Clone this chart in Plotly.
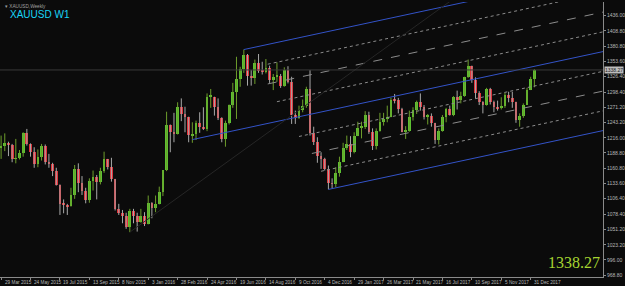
import plotly.graph_objects as go

# ---------------- data (weekly XAUUSD, bar 0 = week of 29 Mar 2015) ----------------
opens = [1199,1201,1207,1203,1178,1179,1189,1225,1205,1190,1168,1181,1201,1173,1168,1157,1131,1097,1095,1093,
         1113,1160,1134,1121,1104,1138,1146,1137,1156,1177,1163,1141,1088,1081,1076,1056,1085,1075,1065,1076,
         1061,1098,1090,1097,1118,1158,1239,1227,1222,1271,1259,1254,1221,1222,1243,1235,1232,1290,1290,1272,
         1252,1213,1243,1275,1298,1322,1340,1366,1327,1323,1351,1336,1335,1341,1321,1326,1328,1310,1338,1316,
         1257,1251,1266,1274,1304,1225,1208,1183,1177,1159,1134,1133,1152,1173,1197,1205,1190,1220,1234,1236,
         1257,1226,1202,1229,1244,1249,1254,1285,1284,1268,1227,1228,1254,1267,1280,1271,1254,1256,1242,1212,
         1228,1254,1268,1258,1289,1284,1291,1325,1346,1320,1297,1280,1275,1304,1280,1272,1269,1274,1294,1287,
         1280,1248,1255,1276,1303,1322]
highs = [1220,1224,1209,1205,1214,1194,1226,1232,1206,1199,1195,1205,1204,1187,1171,1162,1132,1105,1097,1126,
         1167,1170,1147,1126,1143,1157,1149,1162,1191,1178,1180,1142,1097,1086,1081,1088,1088,1081,1088,1082,
         1112,1100,1112,1128,1158,1263,1240,1261,1280,1287,1272,1254,1244,1247,1262,1271,1296,1304,1290,1287,
         1253,1247,1276,1315,1362,1344,1375,1367,1338,1357,1367,1353,1358,1346,1331,1352,1331,1343,1345,1326,
         1265,1274,1285,1308,1338,1236,1217,1190,1180,1166,1143,1163,1182,1207,1220,1219,1226,1245,1245,1264,
         1263,1233,1233,1261,1261,1274,1288,1295,1288,1270,1237,1265,1271,1283,1296,1275,1259,1260,1243,1233,
         1257,1270,1274,1291,1301,1299,1326,1357,1346,1325,1300,1282,1306,1306,1283,1283,1289,1297,1299,1299,
         1281,1260,1278,1306,1326,1340]
lows = [1178,1192,1183,1172,1170,1177,1182,1202,1182,1162,1163,1175,1168,1162,1147,1130,1077,1080,1077,1092,
        1106,1118,1113,1098,1099,1121,1105,1132,1153,1159,1137,1085,1077,1062,1052,1046,1062,1047,1063,1057,
        1060,1071,1082,1096,1111,1156,1190,1208,1222,1246,1226,1208,1207,1212,1225,1230,1228,1270,1256,1248,
        1208,1200,1240,1270,1250,1308,1333,1310,1310,1313,1333,1330,1332,1315,1302,1317,1306,1308,1314,1241,
        1241,1250,1262,1270,1220,1203,1171,1160,1157,1123,1125,1127,1146,1172,1194,1181,1188,1219,1215,1232,
        1223,1194,1195,1227,1238,1244,1253,1278,1260,1226,1214,1227,1247,1259,1265,1249,1240,1236,1205,1204,
        1227,1244,1256,1255,1267,1278,1290,1324,1315,1287,1275,1260,1274,1276,1262,1265,1267,1270,1280,1270,
        1243,1236,1252,1275,1302,1307]
closes = [1201,1207,1203,1178,1179,1189,1225,1205,1190,1168,1181,1201,1173,1168,1157,1131,1097,1095,1093,1113,
          1160,1134,1121,1104,1138,1146,1137,1156,1177,1163,1141,1088,1081,1076,1056,1085,1075,1065,1076,1061,
          1098,1090,1097,1118,1158,1239,1227,1222,1271,1259,1254,1221,1222,1243,1235,1232,1290,1290,1272,1252,
          1213,1243,1275,1298,1322,1340,1366,1327,1323,1351,1336,1335,1341,1321,1326,1328,1310,1338,1316,1257,
          1251,1266,1274,1304,1225,1208,1183,1177,1159,1134,1133,1152,1173,1197,1205,1190,1220,1234,1236,1257,
          1226,1202,1229,1244,1249,1254,1285,1284,1268,1227,1228,1254,1267,1280,1271,1254,1256,1242,1212,1228,
          1254,1268,1258,1289,1284,1291,1325,1346,1320,1297,1280,1275,1304,1280,1272,1269,1274,1294,1287,1280,
          1248,1255,1276,1303,1322,1338.27]

date_tick_idx = [0, 8, 16, 24, 32, 40, 48, 56, 64, 72, 80, 88, 96, 104, 112, 120, 128, 136, 144]
date_tick_text = ["29 Mar 2015", "24 May 2015", "19 Jul 2015", "13 Sep 2015", "8 Nov 2015", "3 Jan 2016",
                  "28 Feb 2016", "24 Apr 2016", "19 Jun 2016", "14 Aug 2016", "9 Oct 2016", "4 Dec 2016",
                  "29 Jan 2017", "26 Mar 2017", "21 May 2017", "16 Jul 2017", "10 Sep 2017", "5 Nov 2017",
                  "31 Dec 2017"]
price_tick_vals = [1436.00, 1408.80, 1380.80, 1353.60, 1326.40, 1298.40, 1271.20, 1243.20, 1216.00, 1188.80,
                   1160.80, 1133.60, 1106.40, 1078.40, 1051.20, 1023.20, 996.00, 968.80]

# channel (pitchfork-like) anchors: (bar index, price)
pivot_A = (35, 1046)     # Dec 2015 low
pivot_B = (66, 1375)     # Jul 2016 high
pivot_C = (89, 1123)     # Dec 2016 low
channel_slope = 1.42     # price per bar
mid_start = 52
upper_q_starts = {0.25: 72.5, 0.5: 72.5, 0.75: 75}
lower_q_starts = {0.25: 81, 0.5: 84.5, 0.75: 87}

# ---------------- figure ----------------
W, H = 625, 286
ML, MR, MT, MB = 0, 20, 2, 9
PW, PH = W - ML - MR, H - MT - MB
XR = [-0.3, 163.66]
YR = [965.2, 1460.7]

BG = "#0b0b0b"
UP_BODY, UP_WICK = "#5cc232", "#6e9e2c"
DN_BODY, DN_WICK = "#e0343c", "#a8a8a8"

fig = go.Figure()

n = len(closes)
xs = list(range(n))
up = [c >= o for o, c in zip(opens, closes)]

for is_up, body, wick in [(True, UP_BODY, UP_WICK), (False, DN_BODY, DN_WICK)]:
    wx, wy = [], []
    bx, bbase, bh = [], [], []
    for i in xs:
        if up[i] != is_up:
            continue
        wx += [i, i, None]
        wy += [lows[i], highs[i], None]
        bx.append(i)
        lo = min(opens[i], closes[i])
        bbase.append(lo)
        bh.append(max(abs(closes[i] - opens[i]), 1.5))
    fig.add_trace(go.Scatter(x=wx, y=wy, mode="lines", line=dict(color=wick, width=1), hoverinfo="skip"))
    fig.add_trace(go.Bar(x=bx, y=bh, base=bbase, width=0.75,
                         marker=dict(color=body, line=dict(width=0)),
                         hoverinfo="skip"))

XEND = 175
mid_anchor = ((pivot_B[0] + pivot_C[0]) / 2, (pivot_B[1] + pivot_C[1]) / 2)

def price_at(anchor, x):
    return anchor[1] + channel_slope * (x - anchor[0])

def chan_line(x0, p0, x1):
    return [x0, x1], [p0, p0 + channel_slope * (x1 - x0)]

BLUE = "#3353c8"
GRAY = "#8c8c8c"
for anc, x0 in [(pivot_B, pivot_B[0]), (mid_anchor, mid_start), (pivot_C, pivot_C[0])]:
    xx, yy = chan_line(x0, price_at(anc, x0), XEND)
    fig.add_trace(go.Scatter(x=xx, y=yy, mode="lines", line=dict(color=BLUE, width=1), hoverinfo="skip"))

for top, bot, starts in [(pivot_B, mid_anchor, upper_q_starts), (mid_anchor, pivot_C, lower_q_starts)]:
    for frac, x0 in starts.items():
        p0 = price_at(top, x0) + frac * (price_at(bot, x0) - price_at(top, x0))
        xx, yy = chan_line(x0, p0, XEND)
        dash = "dash" if frac == 0.5 else "dot"
        fig.add_trace(go.Scatter(x=xx, y=yy, mode="lines",
                                 line=dict(color=GRAY, width=1, dash=dash), hoverinfo="skip"))

# median line from A (faint)
med_slope = (mid_anchor[1] - pivot_A[1]) / (mid_anchor[0] - pivot_A[0])
fig.add_trace(go.Scatter(x=[pivot_A[0], 140], y=[pivot_A[1], pivot_A[1] + med_slope * (140 - pivot_A[0])],
                         mode="lines", line=dict(color="#262626", width=1), hoverinfo="skip"))

# bid line
last = closes[-1]
fig.add_trace(go.Scatter(x=[XR[0] - 5, XR[1] + 5], y=[last, last], mode="lines",
                         line=dict(color="#3a3a3a", width=1), hoverinfo="skip"))

def px_x(px):
    return (px - ML) / PW

def px_y(py):
    return (H - MB - py) / PH

ann = []
for idx, txt in zip(date_tick_idx, date_tick_text):
    ann.append(dict(x=idx + 0.4, y=0, xref="x", yref="paper", yshift=-0.5, text=txt, showarrow=False,
                    xanchor="left", yanchor="top", font=dict(size=4.7, color="#b8b8b8", family="Liberation Sans")))
ann.append(dict(x=px_x(3), y=px_y(1.5), xref="paper", yref="paper", text="▾ XAUUSD,Weekly", showarrow=False,
                xanchor="left", yanchor="top", font=dict(size=4.7, color="#a0a0a0", family="Liberation Sans")))
ann.append(dict(x=px_x(8), y=px_y(7), xref="paper", yref="paper", text="XAUUSD W1", showarrow=False,
                xanchor="left", yanchor="top", font=dict(size=10, color="#18d4f6", family="Liberation Sans")))
ann.append(dict(x=1.0, y=last, xref="paper", yref="y", xshift=1, text=f"{last:.2f}", showarrow=False,
                xanchor="left", yanchor="middle", bgcolor="#bdbdbd", borderpad=0,
                font=dict(size=5, color="#202020", family="Liberation Sans")))
ann.append(dict(x=px_x(604), y=px_y(262), xref="paper", yref="paper", text=f"{last:.2f}", showarrow=False,
                xanchor="right", yanchor="middle",
                font=dict(size=16, color="#a6d531", family="Liberation Serif")))

fig.update_layout(
    width=W, height=H, margin=dict(l=ML, r=MR, t=MT, b=MB, pad=0),
    paper_bgcolor=BG, plot_bgcolor=BG, showlegend=False, barmode="overlay", bargap=0,
    annotations=ann,
    xaxis=dict(range=XR, showgrid=False, zeroline=False, showline=True, linecolor="#8a8a8a", linewidth=1,
               ticks="outside", ticklen=2, tickcolor="#8a8a8a", tickvals=date_tick_idx, showticklabels=False,
               fixedrange=True),
    yaxis=dict(range=YR, side="right", showgrid=False, zeroline=False, showline=True, linecolor="#8a8a8a",
               linewidth=1, ticks="outside", ticklen=2, tickcolor="#8a8a8a",
               tickvals=price_tick_vals, ticktext=[f"{v:.2f}" for v in price_tick_vals],
               tickfont=dict(size=5, color="#b8b8b8", family="Liberation Sans"), fixedrange=True),
)

fig.write_html("out.html")
